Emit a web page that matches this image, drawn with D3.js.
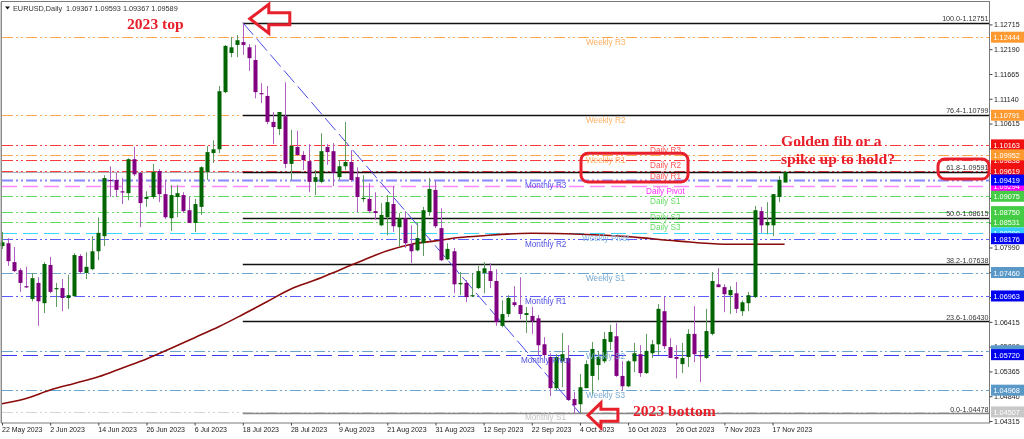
<!DOCTYPE html>
<html><head><meta charset="utf-8">
<script src="https://cdn.jsdelivr.net/npm/d3@7"></script>
<style>html,body{margin:0;padding:0;background:#fff;overflow:hidden}svg{display:block;filter:blur(.35px)}text{font-family:"Liberation Sans",Arial,sans-serif}</style>
</head><body><svg id="c" width="1024" height="439"></svg>
<script>
const opens=[1.0802,1.0808,1.0768,1.0751,1.0717,1.0690,1.0724,1.0681,1.0762,1.0711,
1.0713,1.0692,1.0696,1.0781,1.0745,1.0753,1.0791,1.0823,1.0942,1.0942,
1.0918,1.0914,1.0986,1.0957,1.0902,1.0906,1.0961,1.0912,1.0861,1.0906,
1.0910,1.0878,1.0851,1.0885,1.0959,1.0999,1.1007,1.1128,1.1211,1.1228,
1.1234,1.1223,1.1196,1.1126,1.1120,1.1065,1.1050,1.1077,1.0976,1.1012,
1.0995,1.0982,1.0938,1.0938,1.1012,1.1003,1.0948,1.0971,1.0980,1.0948,
1.0902,1.0902,1.0876,1.0846,1.0863,1.0891,1.0842,1.0861,1.0806,1.0793,
1.0808,1.0874,1.0921,1.0840,1.0774,1.0791,1.0721,1.0724,1.0696,1.0713,
1.0745,1.0749,1.0728,1.0633,1.0658,1.0683,1.0677,1.0656,1.0654,1.0649,
1.0594,1.0567,1.0501,1.0558,1.0565,1.0478,1.0467,1.0501,1.0527,1.0550,
1.0558,1.0599,1.0611,1.0527,1.0505,1.0558,1.0573,1.0533,1.0575,1.0594,
1.0664,1.0588,1.0567,1.0552,1.0567,1.0616,1.0571,1.0565,1.0616,1.0721,
1.0715,1.0698,1.0702,1.0664,1.0681,1.0694,1.0876,1.0846,1.0846,1.0906,1.09367];
const highs=[1.0832,1.0819,1.0800,1.0755,1.0758,1.0745,1.0736,1.0768,1.0779,1.0724,
1.0732,1.0741,1.0787,1.0785,1.0789,1.0823,1.0863,1.0952,1.0971,1.0957,
1.0946,1.0988,1.1012,1.0959,1.0918,1.0976,1.0965,1.0942,1.0931,1.0931,
1.0916,1.0906,1.0902,1.0971,1.1014,1.1026,1.1141,1.1228,1.1245,1.1249,
1.12751,1.1230,1.1228,1.1147,1.1141,1.1086,1.1086,1.1149,1.1048,1.1046,
1.1003,1.1018,1.0963,1.1041,1.1018,1.1020,1.0984,1.1065,1.1005,1.0969,
1.0952,1.0935,1.0916,1.0893,1.0910,1.0929,1.0872,1.0876,1.0846,1.0851,
1.0885,1.0946,1.0940,1.0882,1.0808,1.0798,1.0747,1.0730,1.0745,1.0760,
1.0768,1.0766,1.0753,1.0687,1.0698,1.0717,1.0736,1.0673,1.0673,1.0656,
1.0609,1.0575,1.0573,1.0618,1.0592,1.0493,1.0531,1.0560,1.0599,1.0580,
1.0620,1.0635,1.0639,1.0558,1.0560,1.0597,1.0592,1.0616,1.0603,1.0679,
1.0694,1.0607,1.0592,1.0597,1.0626,1.0675,1.0582,1.0669,1.0747,1.0755,
1.0721,1.0717,1.0726,1.0687,1.0705,1.0887,1.0885,1.0895,1.0912,1.0950,1.09593];
const lows=[1.0796,1.0760,1.0747,1.0705,1.0713,1.0685,1.0633,1.0660,1.0702,1.0673,
1.0664,1.0669,1.0694,1.0743,1.0732,1.0751,1.0772,1.0802,1.0906,1.0906,
1.0891,1.0899,1.0950,1.0842,1.0885,1.0902,1.0895,1.0859,1.0834,1.0863,
1.0872,1.0851,1.0832,1.0868,1.0942,1.0978,1.0999,1.1126,1.1202,1.1202,
1.1207,1.1173,1.1115,1.1105,1.1060,1.1018,1.1037,1.0967,1.0942,1.0993,
1.0963,1.0916,1.0910,1.0935,1.0974,1.0929,1.0942,1.0963,1.0938,1.0874,
1.0895,1.0872,1.0857,1.0844,1.0825,1.0832,1.0800,1.0798,1.0766,1.0791,
1.0781,1.0866,1.0840,1.0770,1.0772,1.0702,1.0698,1.0683,1.0694,1.0711,
1.0702,1.0713,1.0633,1.0630,1.0652,1.0673,1.0647,1.0618,1.0616,1.0571,
1.0565,1.0484,1.0497,1.0503,1.0474,1.04478,1.0448,1.0501,1.0486,1.0518,
1.0554,1.0582,1.0525,1.0495,1.0503,1.0535,1.0525,1.0531,1.0565,1.0571,
1.0584,1.0565,1.0522,1.0533,1.0546,1.0556,1.0514,1.0563,1.0613,1.0715,
1.0662,1.0658,1.0660,1.0654,1.0664,1.0692,1.0830,1.0827,1.0823,1.0895,1.09367];
const closes=[1.0810,1.0770,1.0749,1.0724,1.0715,1.0734,1.0685,1.0764,1.0705,1.0713,
1.0692,1.0698,1.0783,1.0747,1.0758,1.0791,1.0830,1.0946,1.0940,1.0921,
1.0916,1.0986,1.0954,1.0893,1.0906,1.0959,1.0912,1.0863,1.0910,1.0914,
1.0876,1.0851,1.0891,1.0969,1.1001,1.1007,1.1130,1.1226,1.1223,1.1238,
1.1228,1.1200,1.1128,1.1124,1.1065,1.1054,1.1086,1.0976,1.1014,1.0995,
1.0984,1.0938,1.0948,1.1003,1.1001,1.0957,1.0971,1.0980,1.0942,1.0906,
1.0904,1.0876,1.0872,1.0868,1.0895,1.0844,1.0861,1.0808,1.0791,1.0819,
1.0878,1.0923,1.0844,1.0772,1.0796,1.0721,1.0724,1.0694,1.0698,1.0749,
1.0755,1.0728,1.0641,1.0658,1.0692,1.0677,1.0658,1.0660,1.0643,1.0592,
1.0571,1.0501,1.0567,1.0573,1.0476,1.0465,1.0503,1.0552,1.0584,1.0567,
1.0605,1.0620,1.0527,1.0505,1.0558,1.0575,1.0533,1.0580,1.0594,1.0669,
1.0590,1.0565,1.0563,1.0565,1.0616,1.0573,1.0569,1.0622,1.0728,1.0715,
1.0700,1.0709,1.0669,1.0683,1.0698,1.0878,1.0846,1.0853,1.0912,1.0942,1.09589];

const maBars=[0,4,8,12,16,20,24,28,32,36,40,44,48,52,56,60,64,68,72,76,80,88,96,104,112,120,128,130];
const maValues=[1.0468,1.0479,1.0497,1.0511,1.0525,1.0544,1.0563,1.0585,1.0608,1.0631,1.0657,1.0684,1.0711,1.0730,1.0751,1.0772,1.0792,1.0806,1.0813,1.0820,1.0824,1.0829,1.0827,1.0822,1.0813,1.0806,1.0806,1.0806];

const dateBars=[0,8,16,24,32,40,48,56,64,72,80,88,96,104,112,120,128];
const dateLabels=["22 May 2023","2 Jun 2023","14 Jun 2023","26 Jun 2023","6 Jul 2023","18 Jul 2023","28 Jul 2023","9 Aug 2023","21 Aug 2023","31 Aug 2023","12 Sep 2023","22 Sep 2023","4 Oct 2023","16 Oct 2023","26 Oct 2023","7 Nov 2023","17 Nov 2023"];
const priceTicks=[1.12715,1.12190,1.11665,1.11140,1.10615,1.10090,1.09565,1.09040,1.08515,1.07990,1.07465,1.06940,1.06415,1.05890,1.05365,1.04840,1.04315];

const levelNames=["Weekly R3","Weekly R2","Daily R3","Daily R2","Weekly R1","Daily R1","Daily Pivot","Monthly R3","Daily S1","Daily S2","Daily S3","Weekly Pivot","Monthly R2","Weekly S1","Monthly R1","Weekly S2","Monthly Pivot","Weekly S3","Monthly S1"];
const levelValues=[1.12444,1.10791,1.10163,1.09838,1.09952,1.09619,1.09294,1.09419,1.09075,1.08750,1.08531,1.08299,1.08176,1.07460,1.06963,1.05802,1.05720,1.04968,1.04507];

const fibNames=["100.0","76.4","61.8","50.0","38.2","23.6","0.0"];
const fibValues=[1.12751,1.10799,1.09591,1.08615,1.07638,1.06430,1.04478];
const fibStartBar=40, fibEndBar=96;
const headerText="EURUSD,Daily  1.09367 1.09593 1.09367 1.09589";
const bidPrice=1.09589;

// --- styles
const ddot="11 3 2 3 2 3";
const styleOf=n=>{
  if(n==="Daily Pivot")return{c:"#ff88ff",t:"#ff33ff",tag:"#ff00ff",w:1.6,d:"15 6"};
  if(n==="Weekly Pivot")return{c:"#38d8ff",t:"#80b8e0",tag:"#33ccff",w:1.2,d:"15 6"};
  if(n==="Monthly Pivot")return{c:"#3838f0",t:"#5050e0",tag:"#0000ee",w:1.2,d:"15 6"};
  if(n==="Monthly R3")return{c:"#8888ff",t:"#5555e8",tag:"#0000ff",w:2,d:ddot};
  if(n==="Monthly S1")return{c:"#d4d4d4",t:"#c4c4c4",tag:"#c8c8c8",w:1.2,d:ddot};
  if(n.startsWith("Monthly"))return{c:"#5c5cff",t:"#5050e0",tag:"#0000f0",w:1.2,d:ddot};
  if(n.startsWith("Weekly R"))return{c:"#ffa850",t:"#ffb060",tag:"#ff9a30",w:1.2,d:ddot};
  if(n.startsWith("Weekly S"))return{c:"#6aa4d0",t:"#78aad0",tag:"#5a98c8",w:1.2,d:ddot};
  if(n.startsWith("Daily R"))return{c:"#ff3c3c",t:"#ff5555",tag:"#f01010",w:1.2,d:ddot};
  return{c:"#5fdd5f",t:"#66dd66",tag:"#44cc44",w:1.2,d:ddot};
};
const labelX=n=>n==="Daily Pivot"?646:n.startsWith("Daily")?650:n==="Monthly Pivot"?521:n.startsWith("Monthly")?525:n==="Weekly Pivot"?582:586;

const L=2,R=989.5,T=2,B=423;
const x=d3.scaleLinear().domain([0,130]).range([2,784.6]);
const y=d3.scaleLinear().domain([1.04315,1.12715]).range([421,24.4]);
const svg=d3.select("#c");

// levels
svg.append("g").selectAll("line").data(levelNames).join("line")
 .attr("x1",L).attr("x2",R)
 .attr("y1",(n,i)=>Math.round(y(levelValues[i]))+.5).attr("y2",(n,i)=>Math.round(y(levelValues[i]))+.5)
 .attr("stroke",n=>styleOf(n).c).attr("stroke-width",n=>styleOf(n).w).attr("stroke-dasharray",n=>styleOf(n).d);
// bid line
svg.append("line").attr("x1",L).attr("x2",R).attr("y1",y(bidPrice)+.5).attr("y2",y(bidPrice)+.5).attr("stroke","#b0b0b0");
// fib lines
svg.append("g").selectAll("line").data(fibValues).join("line")
 .attr("x1",x(fibStartBar)).attr("x2",R)
 .attr("y1",d=>Math.round(y(d))+.5).attr("y2",d=>Math.round(y(d))+.5)
 .attr("stroke",(d,i)=>i===6?"#888":"#111").attr("stroke-width",1.5);
// fib diagonal
svg.append("line").attr("x1",x(fibStartBar)).attr("y1",y(fibValues[0])).attr("x2",x(fibEndBar)).attr("y2",y(fibValues[6]))
 .attr("stroke","#4a4ae8").attr("stroke-width",1).attr("stroke-dasharray","16 5");
// MA
svg.append("path").datum(maBars).attr("fill","none").attr("stroke","#8b0a0a").attr("stroke-width",1.6)
 .attr("d",d3.line().x(d=>x(d)).y((d,i)=>y(maValues[i])).curve(d3.curveMonotoneX));

// candles
const idx=d3.range(opens.length);
const up=i=>closes[i]>=opens[i];
const g=svg.append("g");
g.selectAll("line").data(idx).join("line")
 .attr("x1",i=>Math.round(x(i))+.5).attr("x2",i=>Math.round(x(i))+.5)
 .attr("y1",i=>y(highs[i])).attr("y2",i=>y(lows[i]))
 .attr("stroke",i=>up(i)?"#5f9a5f":"#b060c0").attr("stroke-width",1);
g.selectAll("rect").data(idx).join("rect")
 .attr("x",i=>Math.round(x(i))-1.5).attr("width",4)
 .attr("y",i=>y(Math.max(opens[i],closes[i])))
 .attr("height",i=>Math.max(1.2,Math.abs(y(opens[i])-y(closes[i]))))
 .attr("fill",i=>up(i)?"#006400":"#800080");

// level labels
svg.append("g").selectAll("text").data(levelNames).join("text")
 .attr("x",labelX).attr("y",(n,i)=>y(levelValues[i])+8)
 .attr("font-size",8.2).attr("fill",n=>styleOf(n).t).text(n=>n);
// fib labels
svg.append("g").selectAll("text").data(fibValues).join("text")
 .attr("x",R-1).attr("y",d=>y(d)-1.5).attr("text-anchor","end")
 .attr("font-size",7.2).attr("fill","#333").text((d,i)=>fibNames[i]+"-"+d.toFixed(5));

// frame
svg.append("rect").attr("x",L-.5).attr("y",T-.5).attr("width",R-L+.5).attr("height",B-T+.5).attr("fill","none").attr("stroke","#7a7a7a");
svg.append("line").attr("x1",1).attr("x2",1).attr("y1",T).attr("y2",B).attr("stroke","#999").attr("stroke-width",1);

// axes
const ax=svg.append("g").attr("transform",`translate(${R},0)`).call(d3.axisRight(y).tickValues(priceTicks).tickFormat(d3.format(".5f")).tickSize(3).tickSizeOuter(0));
ax.select(".domain").remove();
ax.selectAll("line").attr("stroke","#444");
ax.selectAll("text").attr("x",4.5).attr("font-size",7.1).attr("fill","#222").attr("font-family","Liberation Sans");
const bx=svg.append("g").attr("transform",`translate(0,${B})`).call(d3.axisBottom(x).tickValues(dateBars).tickFormat((d,i)=>dateLabels[i]).tickSize(2.5).tickSizeOuter(0));
bx.select(".domain").remove();
bx.selectAll("line").attr("stroke","#444");
bx.selectAll("text").attr("text-anchor","start").attr("y",4).attr("dx",-.5).attr("font-size",7).attr("fill","#222").attr("font-family","Liberation Sans");

// price tags
const tags=svg.append("g");
levelNames.forEach((n,i)=>{
 const v=levelValues[i],cy=y(v),s=styleOf(n);
 tags.append("rect").attr("x",R+1.5).attr("y",cy-5.5).attr("width",33).attr("height",11).attr("fill",s.tag);
 tags.append("text").attr("x",R+4).attr("y",cy+3).attr("font-size",7.3).attr("fill","#fff").text(v.toFixed(5));
});

// header
svg.append("path").attr("d","M5 6.5h5l-2.5 3z").attr("fill","#111");
svg.append("text").attr("x",13).attr("y",11).attr("font-size",7.3).attr("fill","#333").attr("xml:space","preserve").style("white-space","pre").text(headerText);

// annotations
const red="#e8202c";
const serif=(t,px,py)=>svg.append("text").attr("x",px).attr("y",py).attr("font-size",15.6).attr("font-weight","bold").attr("fill",red).style("font-family","'Liberation Serif',serif").text(t);
serif("2023 top",127,29);
serif("2023 bottom",633,416);
serif("Golden fib or a",781,146);
serif("spike up to hold?",781,164);
const arrow=(tx,ty,hl,hh,sh,len)=>svg.append("path")
 .attr("d",`M${tx} ${ty}L${tx+hl} ${ty-hh}V${ty-sh}H${tx+len}V${ty+sh}H${tx+hl}V${ty+hh}Z`)
 .attr("fill","none").attr("stroke",red).attr("stroke-width",3).attr("stroke-linejoin","miter");
arrow(x(fibStartBar)+7,y(fibValues[0])-4,19,14.5,6,40);
arrow(x(fibEndBar)+8,y(fibValues[6])+2,13,12.5,6,30);
const box=(x0,x1,y0,y1)=>svg.append("rect").attr("x",x0).attr("y",y0).attr("width",x1-x0).attr("height",y1-y0).attr("rx",7).attr("fill","none").attr("stroke",red).attr("stroke-width",3);
box(581,688,y(1.09838)-7,y(1.09419)+2);
box(938,989,y(bidPrice)-13,y(bidPrice)+7);
</script></body></html>
